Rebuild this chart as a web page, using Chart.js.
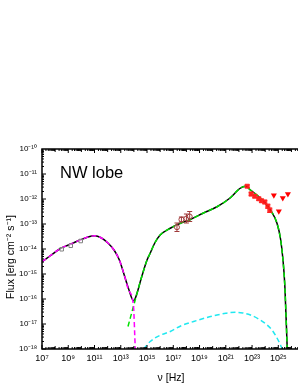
<!DOCTYPE html>
<html>
<head>
<meta charset="utf-8">
<script src="https://cdn.jsdelivr.net/npm/chart.js@4/dist/chart.umd.min.js"></script>
<style>
  body { margin: 0; background: #fff; overflow: hidden; }
  #wrap { width: 298px; height: 385px; position: relative; }
</style>
</head>
<body>
<div id="wrap"><canvas id="sedChart"></canvas></div>
<script>
// all values are log10(nu [Hz]) and log10(flux [erg cm^-2 s^-1])
const xTicks = [7, 9, 11, 13, 15, 17, 19, 21, 23, 25];
const yTicks = [-18, -17, -16, -15, -14, -13, -12, -11, -10];

// total model (black)
const totalNu = [7.0, 7.6, 8.4, 9.2, 9.9, 10.5, 11.0, 11.5, 12.0, 12.5, 12.9, 13.3, 13.6, 13.97, 14.1, 14.6, 15.0, 15.24, 15.6, 16.0, 16.77, 17.5, 18.3, 19.3, 20.33, 21.3, 22.1, 22.5, 22.9, 23.64, 24.4, 24.9, 25.17, 25.35, 25.5, 25.68];
const totalF  = [-14.51, -14.28, -13.98, -13.8, -13.64, -13.52, -13.47, -13.55, -13.75, -14.05, -14.45, -15.1, -15.6, -16.07, -15.98, -15.1, -14.44, -14.17, -13.75, -13.44, -13.17, -12.98, -12.82, -12.56, -12.31, -11.97, -11.57, -11.49, -11.65, -11.97, -12.44, -12.97, -13.6, -14.4, -15.5, -18.0];

// synchrotron (magenta)
const synNu = [7.0, 7.6, 8.4, 9.2, 9.9, 10.5, 11.0, 11.5, 12.0, 12.5, 12.9, 13.3, 13.6, 13.97, 14.1, 14.15];
const synF  = [-14.51, -14.28, -13.98, -13.8, -13.64, -13.52, -13.47, -13.55, -13.75, -14.05, -14.45, -15.1, -15.65, -16.3, -17.9, -18.3];

// inverse Compton on CMB (green)
const icNu = [13.55, 14.1, 14.6, 15.0, 15.24, 15.6, 16.0, 16.77, 17.5, 18.3, 19.3, 20.33, 21.3, 22.1, 22.5, 22.9, 23.64, 24.4, 24.9, 25.17, 25.35, 25.5, 25.68];
const icF  = [-17.1, -16.04, -15.1, -14.44, -14.17, -13.75, -13.44, -13.17, -12.98, -12.82, -12.56, -12.31, -11.97, -11.57, -11.49, -11.65, -11.97, -12.44, -12.97, -13.6, -14.4, -15.5, -18.0];

// second IC component (cyan)
const ic2Nu = [14.74, 15.24, 16.0, 16.77, 17.6, 18.55, 19.5, 20.33, 21.0, 21.73, 22.3, 22.88, 23.5, 24.15, 24.6, 25.04, 25.3];
const ic2F  = [-18.0, -17.7, -17.45, -17.3, -17.07, -16.9, -16.75, -16.64, -16.57, -16.53, -16.56, -16.64, -16.8, -17.04, -17.3, -17.7, -18.0];

// radio data
const radioNu = [8.5, 9.19, 9.95];
const radioF  = [-14.01, -13.87, -13.68];

// X-ray data
const xrayNu  = [17.28, 17.62, 18.0, 18.25];
const xrayF   = [-13.13, -12.82, -12.78, -12.7];
const xrayErr = [0.17, 0.1, 0.18, 0.2];

// gamma-ray data
const gamNu  = [22.63, 22.93, 23.21, 23.51, 23.72, 23.97, 24.2, 24.35];
const gamF   = [-11.49, -11.8, -11.89, -11.99, -12.07, -12.12, -12.29, -12.45];
const gamErr = [0.05, 0.07, 0.06, 0.06, 0.06, 0.07, 0.08, 0.09];

// gamma-ray upper limits
const ulNu = [24.66, 25.04, 25.34, 25.73];
const ulF  = [-11.85, -12.49, -11.96, -11.8];

const FONT = "'Liberation Sans', Arial, sans-serif";
const SUP = { '-': '\u207B', '0': '\u2070', '1': '\u00B9', '2': '\u00B2', '3': '\u00B3', '4': '\u2074', '5': '\u2075', '6': '\u2076', '7': '\u2077', '8': '\u2078', '9': '\u2079' };
function pow10Label(v) {
    return '10' + String(v).split('').map(c => SUP[c]).join('');
}
function pts(xs, ys) {
    return xs.map((x, i) => ({ x: x, y: ys[i] }));
}

function lineSet(xs, ys, color, dash, order) {
    return {
        type: 'line',
        data: pts(xs, ys),
        borderColor: color,
        borderWidth: 1.5,
        borderDash: dash,
        pointRadius: 0,
        cubicInterpolationMode: 'monotone',
        fill: false,
        order: order,
    };
}

// error bars, frame, inward ticks and texts
const decorPlugin = {
    id: 'decor',
    afterDatasetsDraw(chart) {
        const c = chart.ctx, xs = chart.scales.x, ys = chart.scales.y;
        c.save();
        c.lineWidth = 1;
        const bars = (nus, fs, errs, color, cap) => {
            c.strokeStyle = color;
            nus.forEach((n, i) => {
                const px = xs.getPixelForValue(n);
                const y1 = ys.getPixelForValue(fs[i] + errs[i]);
                const y2 = ys.getPixelForValue(fs[i] - errs[i]);
                c.beginPath();
                c.moveTo(px, y1); c.lineTo(px, y2);
                c.moveTo(px - cap, y1); c.lineTo(px + cap, y1);
                c.moveTo(px - cap, y2); c.lineTo(px + cap, y2);
                c.stroke();
            });
        };
        bars(xrayNu, xrayF, xrayErr, '#a03a3a', 2.5);
        bars(gamNu, gamF, gamErr, '#ff2020', 2.5);
        c.restore();
    },
    afterDraw(chart) {
        const c = chart.ctx, a = chart.chartArea, xs = chart.scales.x, ys = chart.scales.y;
        c.save();
        c.strokeStyle = '#000';
        c.lineWidth = 1.5;
        c.beginPath();
        c.moveTo(chart.width, a.top); c.lineTo(a.left, a.top);
        c.lineTo(a.left, a.bottom); c.lineTo(chart.width, a.bottom);
        c.stroke();

        c.lineWidth = 1;
        c.beginPath();
        for (let d = 7; d <= 26; d++) {
            for (let k = 1; k <= 9; k++) {
                const v = d + Math.log10(k);
                if (v > xs.max) continue;
                const px = xs.getPixelForValue(v);
                const len = (k === 1 && xTicks.includes(d)) ? 4 : (k === 1 ? 3 : 2);
                c.moveTo(px, a.bottom); c.lineTo(px, a.bottom - len);
                c.moveTo(px, a.top); c.lineTo(px, a.top + len);
            }
        }
        for (let d = -18; d < -10; d++) {
            for (let k = 1; k <= 9; k++) {
                const py = ys.getPixelForValue(d + Math.log10(k));
                const len = k === 1 ? 4 : 2;
                c.moveTo(a.left, py); c.lineTo(a.left + len, py);
            }
        }
        c.stroke();

        c.fillStyle = '#000';
        c.font = '16.5px ' + FONT;
        c.textAlign = 'left';
        c.textBaseline = 'alphabetic';
        c.fillText('NW lobe', 60, 178);

        c.font = '10.5px ' + FONT;
        c.textAlign = 'center';
        c.fillText('\u03BD [Hz]', 171, 381);

        c.translate(14, 257);
        c.rotate(-Math.PI / 2);
        c.fillText('Flux [erg cm\u207B\u00B2 s\u207B\u00B9]', 0, 0);
        c.restore();
    }
};

const ctx = document.getElementById('sedChart').getContext('2d');
const chart = new Chart(ctx, {
    type: 'scatter',
    data: {
        datasets: [
            lineSet(totalNu, totalF, '#000000', [], 10),
            lineSet(synNu, synF, '#ff00ff', [5, 3], 5),
            lineSet(icNu, icF, '#00e000', [5, 3], 5),
            lineSet(ic2Nu, ic2F, '#20e8f0', [5, 3], 5),
            {
                data: pts(radioNu, radioF),
                pointStyle: 'rect',
                pointRadius: 2.5,
                borderWidth: 1,
                borderColor: '#808080',
                backgroundColor: 'rgba(255,255,255,0.5)',
                order: 1,
            },
            {
                data: pts(xrayNu, xrayF),
                pointStyle: 'circle',
                pointRadius: 2.5,
                borderWidth: 1,
                borderColor: '#a03a3a',
                backgroundColor: 'rgba(255,255,255,0.6)',
                order: 1,
            },
            {
                data: pts(gamNu, gamF),
                pointStyle: 'rect',
                pointRadius: 3,
                borderWidth: 1,
                borderColor: 'rgba(255,60,60,0.7)',
                backgroundColor: 'rgba(255,0,0,0.85)',
                order: 1,
            },
            {
                data: pts(ulNu, ulF),
                pointStyle: 'triangle',
                rotation: 180,
                pointRadius: 3.5,
                borderWidth: 0,
                borderColor: '#ff0000',
                backgroundColor: '#ff0000',
                order: 1,
            },
        ],
    },
    options: {
        responsive: true,
        maintainAspectRatio: false,
        animation: false,
        layout: { autoPadding: false, padding: { top: 149, right: 0, left: 0, bottom: 0 } },
        plugins: { legend: { display: false }, tooltip: { enabled: false } },
        scales: {
            x: {
                type: 'linear',
                min: 7,
                max: 26.5,
                grid: { display: false, drawTicks: false },
                border: { display: false },
                afterBuildTicks: (s) => { s.ticks = xTicks.map(v => ({ value: v })); },
                afterFit: (s) => { s.height = 36; s.paddingLeft = 0; s.paddingRight = 0; },
                ticks: {
                    autoSkip: false,
                    maxRotation: 0,
                    padding: 4,
                    color: '#000',
                    font: { family: FONT, size: 9 },
                    callback: (v) => pow10Label(v),
                },
            },
            y: {
                type: 'linear',
                min: -18,
                max: -10,
                grid: { display: false, drawTicks: false },
                border: { display: false },
                afterBuildTicks: (s) => { s.ticks = yTicks.map(v => ({ value: v })); },
                afterFit: (s) => { s.width = 42; s.paddingTop = 0; s.paddingBottom = 0; },
                ticks: {
                    autoSkip: false,
                    padding: 5,
                    color: '#000',
                    font: { family: FONT, size: 8 },
                    callback: (v) => pow10Label(v),
                },
            },
        },
    },
    plugins: [decorPlugin],
});
</script>
</body>
</html>
